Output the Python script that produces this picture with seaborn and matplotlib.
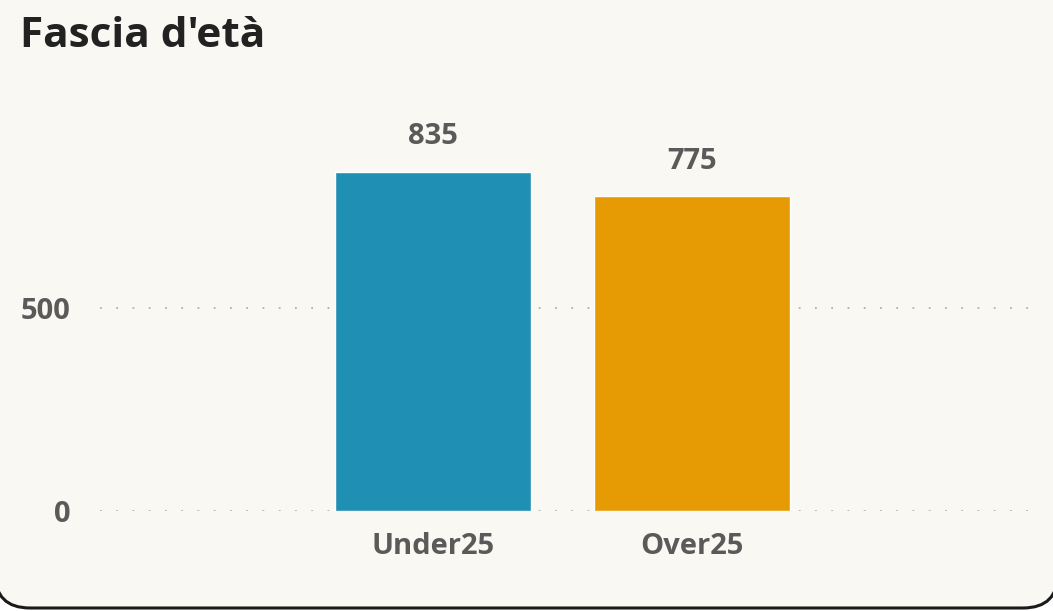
import matplotlib
matplotlib.use("Agg")
import matplotlib.pyplot as plt
import seaborn as sns
from matplotlib.patches import FancyBboxPatch
from matplotlib.transforms import IdentityTransform

# data
categories = ["Under25", "Over25"]
values = [835, 775]
bar_colors = ["#1f8fb4", "#e69a04"]
y_ticks = [0, 500]

sns.set_theme(style="white")
plt.rcParams['font.family'] = ['Open Sans', 'DejaVu Sans']

bg = "#faf8f2"
txt = "#5a5a5a"

fig = plt.figure(figsize=(10.53, 6.11), dpi=100)
fig.patch.set_facecolor("white")

# rounded card behind everything (only the bottom edge shows)
card = FancyBboxPatch((-5, 3), 1063, 700, boxstyle="round,pad=0,rounding_size=35",
                      transform=IdentityTransform(), fc=bg, ec="#1a1a1a", lw=2.2, zorder=-5)
fig.add_artist(card)

ax = fig.add_axes([100 / 1053, 100 / 611, 935 / 1053, 406 / 611])
ax.set_facecolor("none")

sns.barplot(x=categories, y=values, hue=categories, palette=bar_colors,
            legend=False, width=0.757, saturation=1, ax=ax, zorder=3)

for c in ax.containers:
    ax.bar_label(c, padding=15, fontsize=21, color=txt, fontweight="bold")

ax.set_xlim(-1.286, 2.324)
ax.set_ylim(0, 1000)
ax.set_yticks(y_ticks)
ax.set_yticklabels([str(v) for v in y_ticks])
ax.yaxis.grid(True, color="#b0b0b0", linestyle=(0, (1, 8)), linewidth=1.3)
ax.set_axisbelow(True)
for s in ax.spines.values():
    s.set_visible(False)
ax.tick_params(axis="both", length=0, labelsize=21, labelcolor=txt)
ax.tick_params(axis="y", pad=21)
ax.tick_params(axis="x", pad=15)
for lab in ax.get_xticklabels() + ax.get_yticklabels():
    lab.set_fontweight("bold")
ax.set_xlabel("")
ax.set_ylabel("")

fig.text(20 / 1053, 1 - 47 / 611, "Fascia d'età", fontsize=30.5, fontweight="bold",
         color="#222222", va="baseline", ha="left")

fig.savefig("out.png", dpi=100, facecolor=fig.get_facecolor())
